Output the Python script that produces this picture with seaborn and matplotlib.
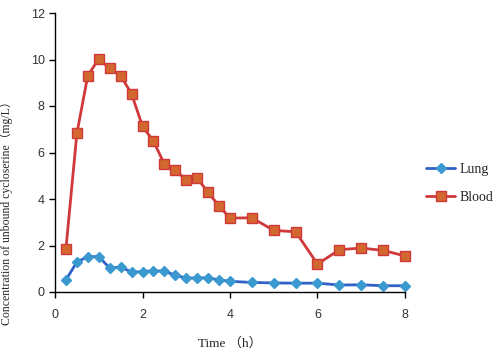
import matplotlib
matplotlib.use("Agg")
import matplotlib.pyplot as plt
import seaborn as sns
import pandas as pd

time_lung = [0.25, 0.5, 0.75, 1.0, 1.25, 1.5, 1.75, 2.0, 2.25, 2.5, 2.75, 3.0, 3.25, 3.5, 3.75, 4.0, 4.5, 5.0, 5.5, 6.0, 6.5, 7.0, 7.5, 8.0]
lung = [0.52, 1.29, 1.52, 1.52, 1.03, 1.07, 0.86, 0.87, 0.92, 0.89, 0.72, 0.60, 0.60, 0.61, 0.52, 0.46, 0.41, 0.39, 0.38, 0.38, 0.30, 0.31, 0.27, 0.27]
time_blood = time_lung
blood = [1.86, 6.82, 9.31, 10.02, 9.62, 9.31, 8.52, 7.13, 6.49, 5.50, 5.26, 4.80, 4.90, 4.28, 3.70, 3.18, 3.19, 2.65, 2.59, 1.20, 1.82, 1.89, 1.79, 1.55]
x_ticks = [0, 2, 4, 6, 8]
y_ticks = [0, 2, 4, 6, 8, 10, 12]

df = pd.concat([
    pd.DataFrame({"Time": time_lung, "Conc": lung, "Tissue": "Lung"}),
    pd.DataFrame({"Time": time_blood, "Conc": blood, "Tissue": "Blood"}),
])

sns.set_style("white")
plt.rcParams['font.family'] = ['Liberation Sans', 'DejaVu Sans']

fig = plt.figure(figsize=(5.0, 3.56), dpi=100)
ax = fig.add_axes([55/500, 1 - 292/356, 350/500, 279/356])

styles = {
    "Lung": dict(color="#3060C8", marker="D", mfc="#3A9AD0", mec="#3A9AD0", ms=5.5),
    "Blood": dict(color="#D0383A", marker="s", mfc="#D2672F", mec="#D0383A", ms=7.5),
}
for name in ["Lung", "Blood"]:
    sub = df[df["Tissue"] == name]
    st = styles[name]
    sns.lineplot(data=sub, x="Time", y="Conc", ax=ax, color=st["color"], lw=2,
                 marker=st["marker"], markerfacecolor=st["mfc"], markeredgecolor=st["mec"],
                 markeredgewidth=1, markersize=st["ms"], label=name, clip_on=False)

ax.set_xlim(0, 8)
ax.set_ylim(0, 12)
ax.set_xticks(x_ticks)
ax.set_yticks(y_ticks)
for s in ["top", "right"]:
    ax.spines[s].set_visible(False)
for s in ["left", "bottom"]:
    ax.spines[s].set_color("black")
    ax.spines[s].set_linewidth(1)
ax.tick_params(axis="both", direction="out", length=4, width=1, colors="black",
               labelsize=9, labelcolor="#333333", bottom=True, left=True)
ax.tick_params(axis="x", pad=8)

ax.set_xlabel("Time （h）", family=['Liberation Serif', 'Noto Sans CJK SC'], fontsize=9.5, labelpad=12)
ax.set_ylabel("Concentration of unbound cycloserine（mg/L）", family=['Liberation Serif', 'Noto Sans CJK SC'], fontsize=8.5)
ax.yaxis.set_label_coords(-0.12, 0.295)

leg = ax.legend(loc="center left", bbox_to_anchor=(1.06, 0.39), frameon=False,
                prop={'family': 'Liberation Serif', 'size': 10}, handlelength=2.1,
                handletextpad=0.3, borderpad=0, borderaxespad=0, labelspacing=1.1)

fig.savefig("out.png", dpi=100)
